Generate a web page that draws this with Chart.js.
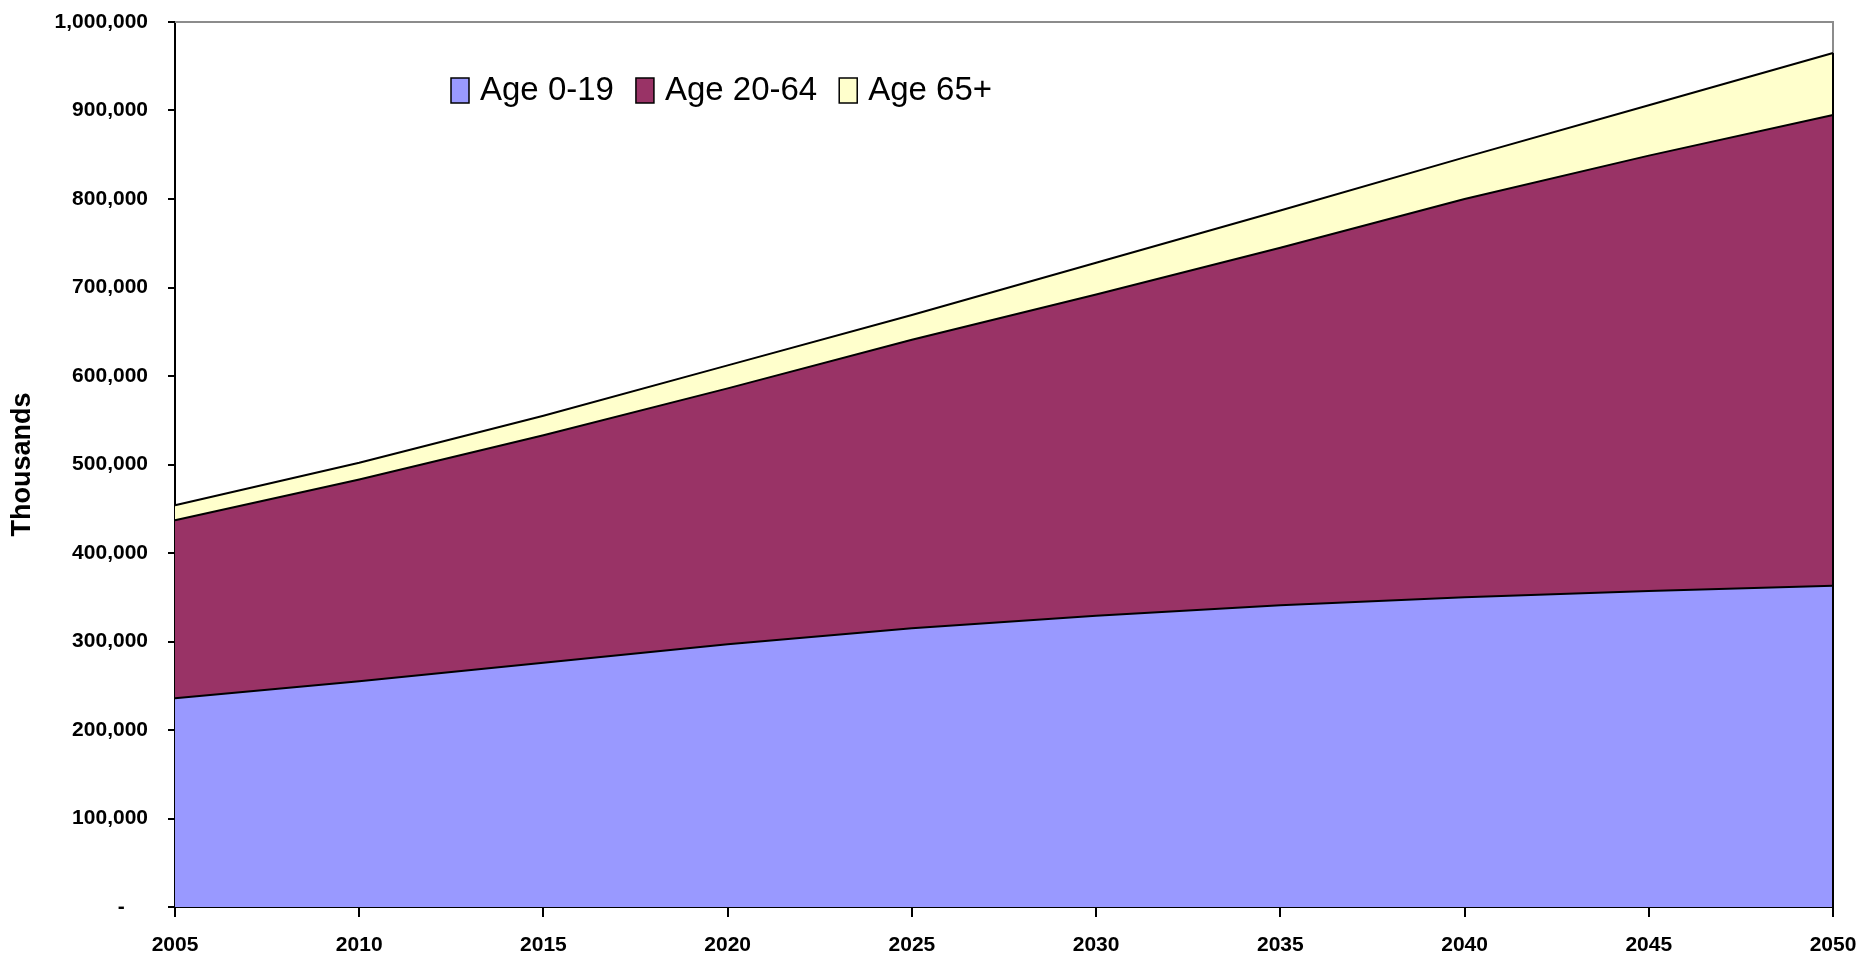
<!DOCTYPE html>
<html>
<head>
<meta charset="utf-8">
<title>Population by age group</title>
<script src="https://cdn.jsdelivr.net/npm/chart.js@4.4.1/dist/chart.umd.min.js"></script>
<style>
  html, body { margin: 0; padding: 0; background: #fff; }
  #wrap { position: relative; width: 1872px; height: 960px; }
</style>
</head>
<body>
<div id="wrap"><canvas id="popChart"></canvas></div>
<script>
// data (thousands of people)
const years = ['2005', '2010', '2015', '2020', '2025', '2030', '2035', '2040', '2045', '2050'];
const age0to19 = [236000, 255000, 276000, 297000, 315000, 329000, 341000, 350000, 357000, 363000];
const age20to64 = [201000, 228000, 257000, 289000, 326000, 363000, 404000, 450000, 492000, 532000];
const age65plus = [17000, 19000, 22000, 26000, 28000, 36000, 42000, 47000, 57000, 70000];
const seriesNames = ['Age 0-19', 'Age 20-64', 'Age 65+'];
const seriesColors = ['#9999ff', '#993366', '#ffffcc'];

const FONT = "'Liberation Sans', Arial, sans-serif";

// grey frame on top and right of the plot area (Excel style)
const plotFrame = {
    id: 'plotFrame',
    beforeDatasetsDraw(chart) {
        const { ctx, chartArea: a } = chart;
        ctx.save();
        ctx.strokeStyle = '#8c8c8c';
        ctx.lineWidth = 2;
        ctx.beginPath();
        ctx.moveTo(a.left, a.top);
        ctx.lineTo(a.right, a.top);
        ctx.lineTo(a.right, a.bottom);
        ctx.stroke();
        ctx.restore();
    },
    afterDatasetsDraw(chart) {
        // black edge where the stacked areas meet the right side
        const { ctx, chartArea: a } = chart;
        const last = years.length - 1;
        const total = age0to19[last] + age20to64[last] + age65plus[last];
        ctx.save();
        ctx.strokeStyle = '#000';
        ctx.lineWidth = 2;
        ctx.beginPath();
        ctx.moveTo(a.right, a.bottom);
        ctx.lineTo(a.right, chart.scales.y.getPixelForValue(total));
        ctx.stroke();
        ctx.restore();
    }
};

// legend drawn inside the plot, like the original
const innerLegend = {
    id: 'innerLegend',
    afterDraw(chart) {
        const ctx = chart.ctx;
        ctx.save();
        ctx.font = '33px ' + FONT;
        ctx.textBaseline = 'middle';
        let x = 451;
        const yMid = 90;
        chart.data.datasets.forEach(ds => {
            ctx.fillStyle = ds.backgroundColor;
            ctx.fillRect(x, yMid - 12, 18, 25);
            ctx.strokeStyle = '#000';
            ctx.lineWidth = 1.5;
            ctx.strokeRect(x, yMid - 12, 18, 25);
            ctx.fillStyle = '#000';
            ctx.fillText(ds.label, x + 29, yMid + 1);
            x += 29 + ctx.measureText(ds.label).width + 22;
        });
        ctx.restore();
    }
};

const datasets = [age0to19, age20to64, age65plus].map((values, i) => ({
    label: seriesNames[i],
    data: values,
    backgroundColor: seriesColors[i],
    borderColor: '#000',
    borderWidth: 2,
    pointRadius: 0,
    tension: 0,
    fill: i === 0 ? 'origin' : '-1'
}));

new Chart(document.getElementById('popChart'), {
    type: 'line',
    data: { labels: years, datasets: datasets },
    plugins: [plotFrame, innerLegend],
    options: {
        responsive: true,
        maintainAspectRatio: false,
        animation: false,
        layout: { padding: { left: 0, top: 22, right: 39, bottom: 0 } },
        plugins: {
            legend: { display: false },
            tooltip: { enabled: false }
        },
        scales: {
            x: {
                offset: false,
                grid: { display: true, drawOnChartArea: false, drawTicks: true, tickLength: 10, color: '#000', lineWidth: 2 },
                border: { display: true, color: '#000', width: 2 },
                ticks: { color: '#000', font: { family: FONT, size: 21, weight: 'bold' }, padding: 16, maxRotation: 0, autoSkip: false },
                afterFit(axis) {
                    axis.height = 53;
                    axis.paddingLeft = 0;
                    axis.paddingRight = 0;
                }
            },
            y: {
                stacked: true,
                min: 0,
                max: 1000000,
                grid: { display: true, drawOnChartArea: false, drawTicks: true, tickLength: 7, color: '#000', lineWidth: 2 },
                border: { display: true, color: '#000', width: 2 },
                ticks: {
                    stepSize: 100000,
                    color: '#000',
                    padding: 20,
                    font: { family: FONT, size: 21, weight: 'bold' },
                    callback: v => v === 0 ? '-    ' : v.toLocaleString('en-US')
                },
                title: {
                    display: true,
                    text: 'Thousands',
                    color: '#000',
                    font: { family: FONT, size: 27, weight: 'bold' },
                    padding: { top: 6, bottom: 0 }
                },
                afterFit(axis) {
                    axis.width = 175;
                    axis.paddingTop = 0;
                    axis.paddingBottom = 0;
                }
            }
        }
    }
});
</script>
</body>
</html>
